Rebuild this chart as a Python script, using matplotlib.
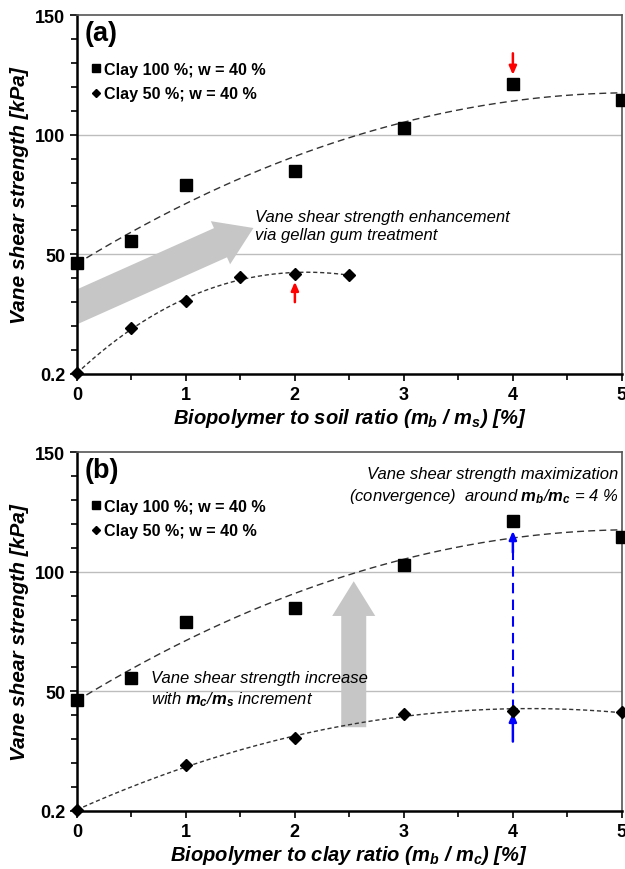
import matplotlib
matplotlib.use("Agg")
import matplotlib.pyplot as plt
from matplotlib.ticker import MultipleLocator
import numpy as np

# data
ratio_soil = [0, 0.5, 1, 2, 3, 4, 5]
clay100 = [46.4, 55.6, 79.0, 84.8, 102.8, 121.2, 114.5]
ratio_soil_50 = [0, 0.5, 1, 1.5, 2, 2.5]
clay50 = [0.2, 19.2, 30.5, 40.5, 41.8, 41.4]
ratio_clay_50 = [0, 1, 2, 3, 4, 5]  # m_b/m_c = 2 * m_b/m_s for 50 % clay

yticks = [0, 50, 100, 150]
ytick_labels = ["0.2", "50", "100", "150"]
label_100 = "Clay 100 %; w = 40 %"
label_50 = "Clay 50 %; w = 40 %"

plt.rcParams.update({
    "font.family": "Liberation Sans",
    "mathtext.fontset": "custom",
    "mathtext.it": "Liberation Sans:italic:bold",
    "mathtext.bf": "Liberation Sans:italic:bold",
    "mathtext.rm": "Liberation Sans:bold",
})

GRAY = "#c6c6c6"


def fit_line(ax, x, y, style, xmax, deg=2):
    c = np.polyfit(x, y, deg)
    xs = np.linspace(0, xmax, 200)
    ax.plot(xs, np.polyval(c, xs), color="#333333", lw=1.0,
            linestyle=style, zorder=2)


def setup(ax, xlabel, tag):
    ax.set_xlim(0, 5)
    ax.set_ylim(0, 150)
    ax.set_yticks(yticks)
    ax.set_yticklabels(ytick_labels)
    ax.yaxis.set_minor_locator(MultipleLocator(10))
    ax.xaxis.set_major_locator(MultipleLocator(1))
    ax.xaxis.set_minor_locator(MultipleLocator(0.5))
    ax.tick_params(which="both", direction="out", width=1.2, labelsize=13)
    ax.tick_params(which="major", length=5)
    ax.tick_params(which="minor", length=4)
    for lab in ax.get_xticklabels() + ax.get_yticklabels():
        lab.set_fontweight("bold")
    ax.tick_params(axis="x", which="both", top=False)
    ax.tick_params(axis="y", which="both", right=False)
    for s in ["left", "bottom"]:
        ax.spines[s].set_linewidth(1.8)
        ax.spines[s].set_color("black")
    for s in ["top", "right"]:
        ax.spines[s].set_linewidth(1.2)
        ax.spines[s].set_color("#555555")
    for v in [50, 100]:
        ax.axhline(v, color="#bdbdbd", lw=1.0, zorder=0)
    ax.set_xlabel(xlabel, fontsize=14.5, fontweight="bold", style="italic",
                  labelpad=2)
    ax.set_ylabel("Vane shear strength [kPa]", fontsize=15,
                  fontweight="bold", style="italic")
    ax.yaxis.set_label_coords(-0.088, 0.5)
    ax.text(0.015, 0.985, tag, transform=ax.transAxes, fontsize=19.5,
            fontweight="bold", va="top", ha="left")
    ax.legend(loc="upper left", bbox_to_anchor=(-0.005, 0.91), frameon=False,
              handletextpad=0.05, handlelength=0.9, markerscale=0.75,
              labelspacing=0.6, prop={"weight": "bold", "size": 11.6})


fig = plt.figure(figsize=(6.25, 8.7), dpi=100)
ax1 = fig.add_axes([0.123, 0.569, 0.872, 0.4126])
ax2 = fig.add_axes([0.123, 0.0667, 0.872, 0.4126])

# ---- panel (a)
a = ax1.annotate("", xy=(1.62, 61), xytext=(-0.05, 27),
                 arrowprops=dict(arrowstyle="simple,head_width=3.4,head_length=2.6,tail_width=2.3",
                                 mutation_scale=10, color=GRAY, lw=0, shrinkA=0, shrinkB=0),
                 zorder=1, annotation_clip=False)
a.arrow_patch.set_clip_path(ax1.patch)
fit_line(ax1, ratio_soil, clay100, (0, (5, 3)), 5)
fit_line(ax1, ratio_soil_50, clay50, (0, (3, 2)), 2.5, deg=3)
ax1.plot(ratio_soil, clay100, ls="none", marker="s", ms=8.5, color="black",
         label=label_100, clip_on=False, zorder=4)
ax1.plot(ratio_soil_50, clay50, ls="none", marker="D", ms=6, color="black",
         label=label_50, clip_on=False, zorder=4)
ax1.annotate("", xy=(4, 125), xytext=(4, 134),
             arrowprops=dict(arrowstyle="-|>,head_width=0.22,head_length=0.5",
                             color="red", lw=1.8, shrinkA=0, shrinkB=0))
ax1.annotate("", xy=(2, 38.5), xytext=(2, 30),
             arrowprops=dict(arrowstyle="-|>,head_width=0.22,head_length=0.5",
                             color="red", lw=1.8, shrinkA=0, shrinkB=0))
ax1.text(1.63, 62, "Vane shear strength enhancement\nvia gellan gum treatment",
         fontsize=12, style="italic", ha="left", va="center", linespacing=1.3)
setup(ax1, r"Biopolymer to soil ratio ($m_b$ / $m_s$) [%]", "(a)")

# ---- panel (b)
ax2.annotate("", xy=(2.54, 96), xytext=(2.54, 35),
             arrowprops=dict(arrowstyle="simple,head_width=3.1,head_length=2.5,tail_width=1.8",
                             mutation_scale=10, color=GRAY, lw=0, shrinkA=0, shrinkB=0),
             zorder=1)
fit_line(ax2, ratio_soil, clay100, (0, (5, 3)), 5)
fit_line(ax2, ratio_clay_50, clay50, (0, (3, 2)), 5)
ax2.plot(ratio_soil, clay100, ls="none", marker="s", ms=8.5, color="black",
         label=label_100, clip_on=False, zorder=4)
ax2.plot(ratio_clay_50, clay50, ls="none", marker="D", ms=6, color="black",
         label=label_50, clip_on=False, zorder=4)
ax2.plot([4, 4], [42, 110], color="blue", lw=1.5, linestyle=(0, (5, 3)), zorder=3)
ax2.annotate("", xy=(4, 117), xytext=(4, 108),
             arrowprops=dict(arrowstyle="-|>,head_width=0.22,head_length=0.5",
                             color="blue", lw=1.8, shrinkA=0, shrinkB=0))
ax2.annotate("", xy=(4, 41), xytext=(4, 29),
             arrowprops=dict(arrowstyle="-|>,head_width=0.22,head_length=0.5",
                             color="blue", lw=1.8, shrinkA=0, shrinkB=0))
ax2.text(4.97, 136, "Vane shear strength maximization\n(convergence)  around $m_b$/$m_c$ = 4 %",
         fontsize=12, style="italic", ha="right", va="center", linespacing=1.3)
ax2.text(0.68, 51, "Vane shear strength increase\nwith $m_c$/$m_s$ increment",
         fontsize=12, style="italic", ha="left", va="center", linespacing=1.3)
setup(ax2, r"Biopolymer to clay ratio ($m_b$ / $m_c$) [%]", "(b)")

fig.savefig("out.png", dpi=100)
